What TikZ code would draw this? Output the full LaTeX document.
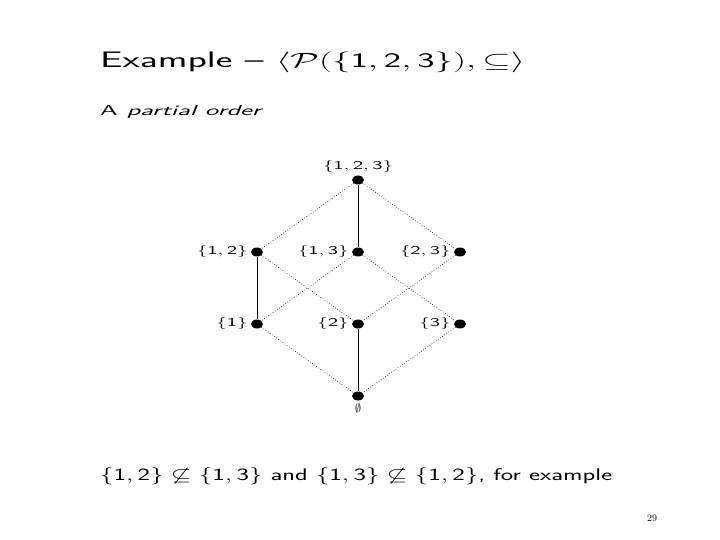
\documentclass[tikz,border=0pt]{standalone}
\usepackage{amssymb}
\usepackage{graphicx}
\usetikzlibrary{shapes.geometric}
\newcommand{\stretched}[1]{\scalebox{1.75}[1]{#1}}
\tikzset{
  elem/.style={ellipse,fill=black,inner sep=0pt,minimum width=12bp,minimum height=9bp},
  tag/.style={font=\sffamily\fontsize{12.5}{14}\selectfont,inner sep=3bp},
  hasse/.style={dotted,line width=0.6pt},
  chain/.style={line width=0.9pt}
}
\begin{document}
\begin{tikzpicture}[x=1bp,y=-1bp]
    \useasboundingbox (0,0) rectangle (720,540);
    % headings
    \node[anchor=base west,inner sep=0pt,font=\sffamily\fontsize{22.5}{27}\selectfont] (title) at (100,68)
      {\resizebox{425bp}{\height}{Example -- $\langle\mathcal{P}(\{\mathsf{1},\mathsf{2},\mathsf{3}\}),\subseteq\rangle$}};
    \node[anchor=base west,inner sep=0pt,font=\sffamily\fontsize{14.5}{17}\selectfont] (sub) at (100,116)
      {\resizebox{163bp}{\height}{A \textsl{partial order}}};
    % the lattice
    \node[elem,label={[tag]above:\stretched{$\{\mathsf{1},\mathsf{2},\mathsf{3}\}$}}] (s123) at (358,180) {};
    \node[elem,label={[tag]left:\stretched{$\{\mathsf{1},\mathsf{2}\}$}}] (s12) at (257,252) {};
    \node[elem,label={[tag]left:\stretched{$\{\mathsf{1},\mathsf{3}\}$}}] (s13) at (358,252) {};
    \node[elem,label={[tag]left:\stretched{$\{\mathsf{2},\mathsf{3}\}$}}] (s23) at (460,252) {};
    \node[elem,label={[tag]left:\stretched{$\{\mathsf{1}\}$}}] (s1) at (257,324) {};
    \node[elem,label={[tag]left:\stretched{$\{\mathsf{2}\}$}}] (s2) at (358,324) {};
    \node[elem,label={[tag]left:\stretched{$\{\mathsf{3}\}$}}] (s3) at (460,324) {};
    \node[elem,label={[tag]below:$\emptyset$}] (s0) at (358,396) {};
    \draw[chain] (s123)--(s13);
    \draw[chain] (s12)--(s1);
    \draw[chain] (s2)--(s0);
    \draw[hasse] (s123)--(s12);
    \draw[hasse] (s123)--(s23);
    \draw[hasse] (s12)--(s2);
    \draw[hasse] (s13)--(s1);
    \draw[hasse] (s13)--(s3);
    \draw[hasse] (s23)--(s2);
    \draw[hasse] (s1)--(s0);
    \draw[hasse] (s3)--(s0);
    % remark
    \node[anchor=base west,inner sep=0pt,font=\sffamily\fontsize{17}{20}\selectfont] (note) at (100,480)
      {\resizebox{512bp}{\height}{$\{\mathsf{1},\mathsf{2}\}\not\subseteq\{\mathsf{1},\mathsf{3}\}$ and $\{\mathsf{1},\mathsf{3}\}\not\subseteq\{\mathsf{1},\mathsf{2}\}$, for example}};
    \node[anchor=base,inner sep=0pt,font=\fontsize{10}{12}\selectfont] (page) at (652,521) {29};
\end{tikzpicture}
\end{document}
